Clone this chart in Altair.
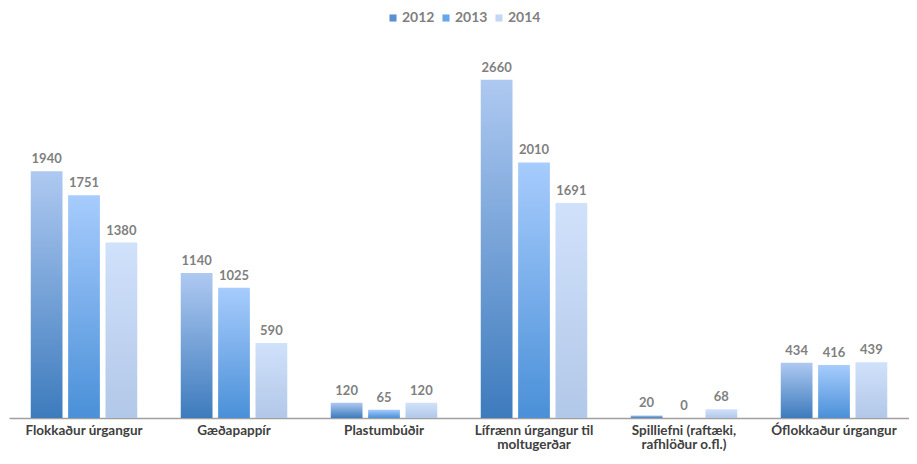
import json
import altair as alt
import pandas as pd

categories = [
    "Flokkaður úrgangur",
    "Gæðapappír",
    "Plastumbúðir",
    "Lífrænn úrgangur til moltugerðar",
    "Spilliefni (raftæki, rafhlöður o.fl.)",
    "Óflokkaður úrgangur",
]
years = ["2012", "2013", "2014"]
values_2012 = [1940, 1140, 120, 2660, 20, 434]
values_2013 = [1751, 1025, 65, 2010, 0, 416]
values_2014 = [1380, 590, 120, 1691, 68, 439]

series = {"2012": values_2012, "2013": values_2013, "2014": values_2014}
rows = []
for y in years:
    for c, v in zip(categories, series[y]):
        rows.append({"category": c, "year": y, "value": v})
df = pd.DataFrame(rows)

grad_stops = {
    "2012": ("#aec9f1", "#3d7bbd"),
    "2013": ("#a7ccfd", "#4a90d8"),
    "2014": ("#d0e1fb", "#b2c8e8"),
}
legend_colors = ["#5b8fcf", "#66a6ec", "#c2d6f5"]

wrap = {
    "Lífrænn úrgangur til moltugerðar": ["Lífrænn úrgangur til", "moltugerðar"],
    "Spilliefni (raftæki, rafhlöður o.fl.)": ["Spilliefni (raftæki,", "rafhlöður o.fl.)"],
}
expr = "datum.label"
for k, v in wrap.items():
    expr = f"datum.label == {json.dumps(k, ensure_ascii=False)} ? {json.dumps(v, ensure_ascii=False)} : ({expr})"

FONT = "Lato"

x_enc = alt.X(
    "category:N",
    sort=categories,
    scale=alt.Scale(paddingInner=0.29, paddingOuter=0.145),
    axis=alt.Axis(
        title=None,
        labelAngle=0,
        ticks=False,
        domainColor="#a0a0a0",
        domainWidth=1.5,
        labelColor="#404040",
        labelFont=FONT,
        labelFontSize=13.5,
        labelFontWeight="bold",
        labelPadding=5,
        labelLimit=250,
        labelExpr=expr,
        labelLineHeight=14.5,
    ),
)
xo_enc = alt.XOffset("year:N", scale=alt.Scale(domain=years, paddingInner=0.15))
y_enc = alt.Y("value:Q", scale=alt.Scale(domain=[0, 3020], nice=False), axis=None)

base = alt.Chart(df)
layers = []
for y in years:
    top, bottom = grad_stops[y]
    grad = alt.Gradient(
        gradient="linear",
        stops=[alt.GradientStop(color=top, offset=0), alt.GradientStop(color=bottom, offset=1)],
        x1=0, x2=0, y1=0, y2=1,
    )
    layers.append(
        base.transform_filter(alt.datum.year == y)
        .mark_bar(color=grad)
        .encode(x=x_enc, xOffset=xo_enc, y=y_enc)
    )

labels = base.mark_text(
    baseline="bottom", dy=-5, font=FONT, fontSize=13, fontWeight="bold", color="#7f7f7f"
).encode(x=x_enc, xOffset=xo_enc, y=y_enc, text=alt.Text("value:Q"))

legend_layer = base.mark_point(opacity=0, filled=True).encode(
    x=x_enc,
    xOffset=xo_enc,
    y=y_enc,
    color=alt.Color(
        "year:N",
        scale=alt.Scale(domain=years, range=legend_colors),
        legend=alt.Legend(
            title=None,
            orient="none",
            legendX=377,
            legendY=-23,
            direction="horizontal",
            symbolType="square",
            symbolSize=50,
            symbolOpacity=1,
            symbolStrokeWidth=0,
            labelFont=FONT,
            labelFontSize=14,
            labelFontWeight="bold",
            labelColor="#7f7f7f",
            labelOffset=2,
            columnPadding=4,
        ),
    ),
)

chart = (
    alt.layer(*layers, labels, legend_layer)
    .properties(
        width=900,
        height=384,
        autosize=alt.AutoSizeParams(type="none"),
        padding={"left": 1, "top": 26, "right": 0, "bottom": 34},
    )
    .configure(background="white")
    .configure_view(strokeWidth=0, stroke="transparent")
)

chart.save("out.html", embed_options={"renderer": "svg", "actions": False})
